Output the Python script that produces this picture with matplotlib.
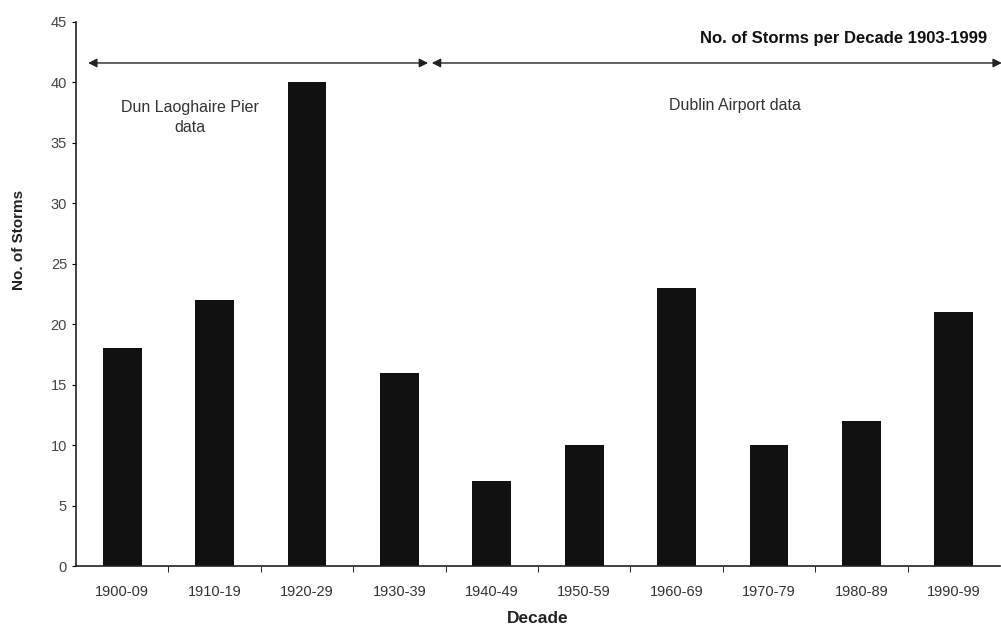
import matplotlib.pyplot as plt
import numpy as np

decades = ["1900-09", "1910-19", "1920-29", "1930-39", "1940-49",
           "1950-59", "1960-69", "1970-79", "1980-89", "1990-99"]
storms = [18, 22, 40, 16, 7, 10, 23, 10, 12, 21]


def main():
    plt.rcParams["font.family"] = ["Liberation Sans", "DejaVu Sans"]
    fig = plt.figure(figsize=(10.01, 6.32), dpi=100)
    ax = fig.add_axes([0.076, 0.1044, 0.923, 0.861])

    x = np.arange(len(decades))
    ax.bar(x, storms, width=0.42, color="#111111")

    ax.set_xlim(-0.5, len(decades) - 0.5)
    ax.set_ylim(0, 45)
    ax.set_yticks(np.arange(0, 46, 5))
    ax.set_xticks(x)
    ax.set_xticklabels(decades, fontsize=10.5, color="#333333")
    ax.set_xticks(np.arange(0.5, len(decades) - 0.5, 1), minor=True)
    ax.tick_params(axis="x", which="major", length=0, pad=14)
    ax.tick_params(axis="x", which="minor", length=4, direction="out")
    ax.tick_params(axis="y", labelsize=10.5, labelcolor="#444444", length=3)

    for side in ("top", "right"):
        ax.spines[side].set_visible(False)
    for side in ("left", "bottom"):
        ax.spines[side].set_linewidth(1.2)
        ax.spines[side].set_color("#222222")

    ax.set_ylabel("No. of Storms", fontsize=11, fontweight="bold", color="#222222")
    ax.yaxis.set_label_coords(-0.054, 0.6)
    ax.set_xlabel("Decade", fontsize=12.5, fontweight="bold", color="#222222")
    ax.xaxis.set_label_coords(0.5, -0.082)

    arrow = dict(arrowstyle="<|-|>", color="#222222", lw=1, mutation_scale=13, shrinkA=0, shrinkB=0)
    ax.annotate("", xy=(-0.37, 41.6), xytext=(3.31, 41.6), arrowprops=arrow, annotation_clip=False)
    ax.annotate("", xy=(3.35, 41.6), xytext=(9.52, 41.6), arrowprops=arrow, annotation_clip=False)

    ax.text(9.36, 43.6, "No. of Storms per Decade 1903-1999", ha="right", va="center",
            fontsize=12, fontweight="bold", color="#111111")
    ax.text(0.73, 37.1, "Dun Laoghaire Pier\ndata", ha="center", va="center",
            fontsize=11.5, color="#333333", linespacing=1.45)
    ax.text(6.63, 38.1, "Dublin Airport data", ha="center", va="center",
            fontsize=11.5, color="#333333")

    fig.savefig("out.png", dpi=100)


if __name__ == "__main__":
    main()
